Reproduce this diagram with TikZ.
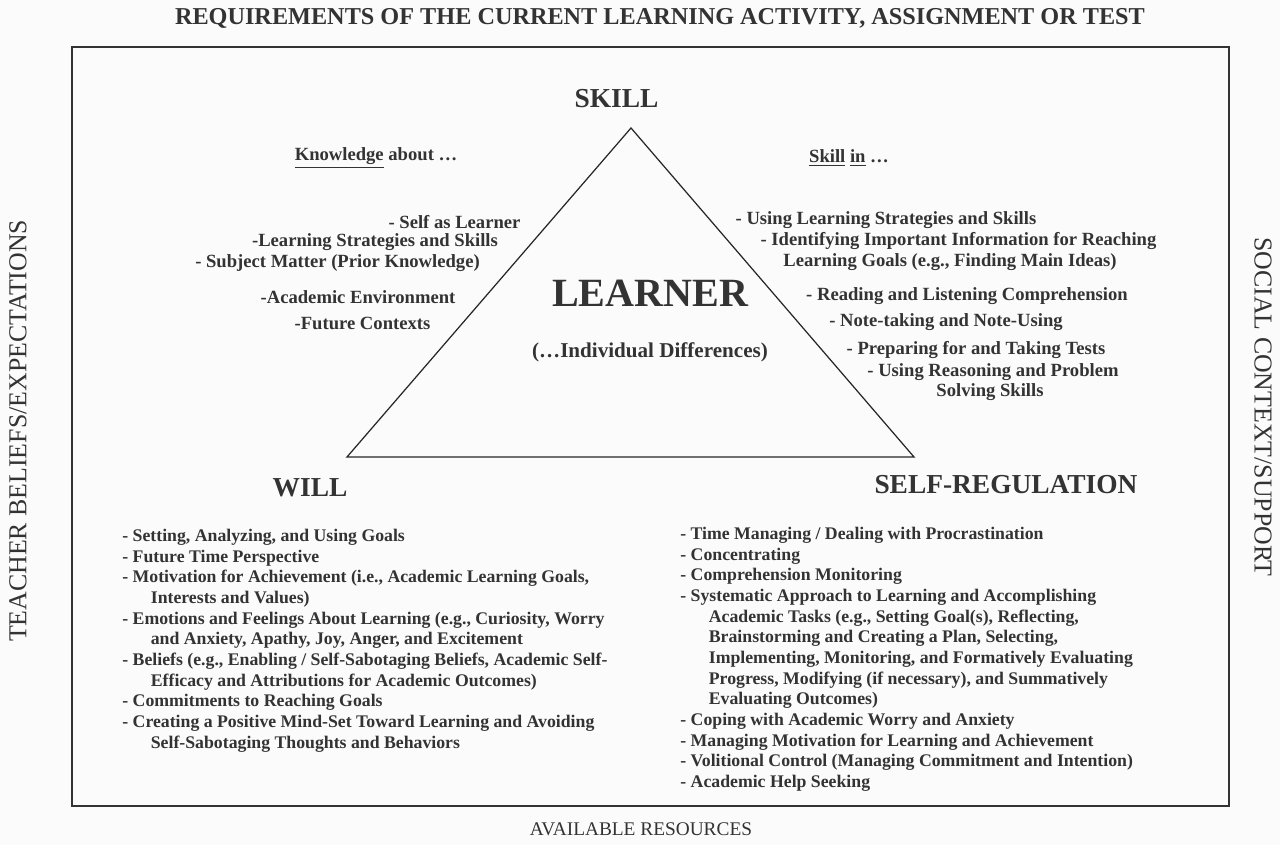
\documentclass[tikz,border=0pt]{standalone}
\usepackage{fontspec}
\setmainfont{Liberation Serif}
\usetikzlibrary{positioning}
\definecolor{ink}{gray}{0.2}
\definecolor{paper}{gray}{0.985}

\begin{document}
\begin{tikzpicture}[
    every node/.style={text=ink, font=\bfseries},
    head/.style={font=\fontsize{15.6}{18}\selectfont\bfseries},
    item/.style={font=\fontsize{10.6}{12}\selectfont\bfseries},
    list/.style={anchor=north west, align=left, inner sep=0pt,
      font=\fontsize{10.1}{11.75}\selectfont\bfseries},
    side/.style={font=\fontsize{14.7}{16}\selectfont}
  ]
  \newcommand{\ind}{\hspace*{0.57cm}}
  \useasboundingbox (0,0) rectangle (25.6,16.9);
  \fill[paper] (0,0) rectangle (25.6,16.9);

  % outer frame and the learner triangle
  \coordinate (fsw) at (1.44,0.78);
  \coordinate (fne) at (24.58,15.96);
  \draw[ink, line width=1.3pt] (fsw) rectangle (fne);
  \coordinate (top) at (12.62,14.34);
  \coordinate (bl) at (6.94,7.76);
  \coordinate (br) at (18.28,7.76);
  \draw[black!85, line width=0.7pt] (top) -- (bl) -- (br) -- cycle;

  % labels around the frame
  \node[font=\fontsize{13.8}{16}\selectfont\bfseries] (req) at (13.2,16.54)
    {REQUIREMENTS OF THE CURRENT LEARNING ACTIVITY, ASSIGNMENT OR TEST};
  \node[side, rotate=90] (teach) at (0.36,8.28) {TEACHER BELIEFS/EXPECTATIONS};
  \node[side, rotate=-90] (social) at (25.26,8.76) {SOCIAL CONTEXT/SUPPORT};
  \node[font=\fontsize{11}{13}\selectfont] (res) at (12.82,0.32) {AVAILABLE RESOURCES};

  % corners
  \node[head] (skill) at (12.33,14.93) {SKILL};
  \node[head] (will) at (6.2,7.15) {WILL};
  \node[head] (selfreg) at (20.12,7.2) {SELF-REGULATION};
  \node[font=\fontsize{22.8}{26}\selectfont\bfseries] (learner) at (13.0,11.04) {LEARNER};
  \node[font=\fontsize{12}{14}\selectfont\bfseries] (diff) at (13.0,9.86) {(\dots Individual Differences)};

  % knowledge about ...
  \node[item] (know) at (7.52,13.74) {\underline{Knowledge} about \dots};
  \node[item] (k1) at (9.09,12.46) {- Self as Learner};
  \node[item] (k2) at (7.5,12.06) {-Learning Strategies and Skills};
  \node[item] (k3) at (6.75,11.64) {- Subject Matter (Prior Knowledge)};
  \node[item] (k4) at (7.16,10.96) {-Academic Environment};
  \node[item] (k5) at (7.25,10.44) {-Future Contexts};

  % skill in ...
  \node[item] (skin) at (16.98,13.74) {\underline{Skill} \underline{in} \dots};
  \node[item] (s1) at (17.72,12.5) {- Using Learning Strategies and Skills};
  \node[item] (s2) at (19.17,12.08) {- Identifying Important Information for Reaching};
  \node[item] (s3) at (19.0,11.66) {Learning Goals (e.g., Finding Main Ideas)};
  \node[item] (s4) at (19.34,10.98) {- Reading and Listening Comprehension};
  \node[item] (s5) at (18.92,10.46) {- Note-taking and Note-Using};
  \node[item] (s6) at (19.52,9.9) {- Preparing for and Taking Tests};
  \node[item] (s7) at (19.86,9.46) {- Using Reasoning and Problem};
  \node[item] (s8) at (19.8,9.06) {Solving Skills};

  % will list
  \node[list] (willlist) at (2.44,6.32) {%
    - Setting, Analyzing, and Using Goals\\
    - Future Time Perspective\\
    - Motivation for Achievement (i.e., Academic Learning Goals,\\
    \ind Interests and Values)\\
    - Emotions and Feelings About Learning (e.g., Curiosity, Worry\\
    \ind and Anxiety, Apathy, Joy, Anger, and Excitement\\
    - Beliefs (e.g., Enabling / Self-Sabotaging Beliefs, Academic Self-\\
    \ind Efficacy and Attributions for Academic Outcomes)\\
    - Commitments to Reaching Goals\\
    - Creating a Positive Mind-Set Toward Learning and Avoiding\\
    \ind Self-Sabotaging Thoughts and Behaviors};

  % self-regulation list
  \node[list] (reglist) at (13.6,6.36) {%
    - Time Managing / Dealing with Procrastination\\
    - Concentrating\\
    - Comprehension Monitoring\\
    - Systematic Approach to Learning and Accomplishing\\
    \ind Academic Tasks (e.g., Setting Goal(s), Reflecting,\\
    \ind Brainstorming and Creating a Plan, Selecting,\\
    \ind Implementing, Monitoring, and Formatively Evaluating\\
    \ind Progress, Modifying (if necessary), and Summatively\\
    \ind Evaluating Outcomes)\\
    - Coping with Academic Worry and Anxiety\\
    - Managing Motivation for Learning and Achievement\\
    - Volitional Control (Managing Commitment and Intention)\\
    - Academic Help Seeking};
\end{tikzpicture}
\end{document}
